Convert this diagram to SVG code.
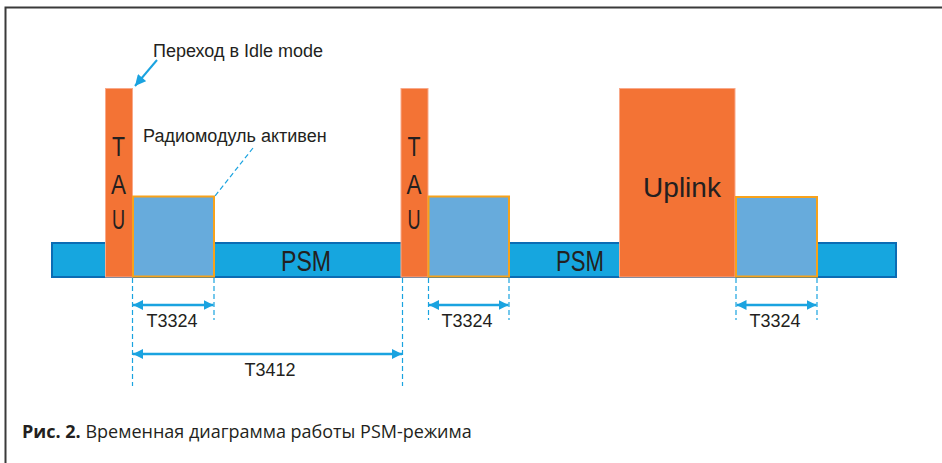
<svg xmlns="http://www.w3.org/2000/svg" width="942" height="463" viewBox="0 0 942 463">
  <style>
    .lbl { font-family: "Liberation Sans", Arial, sans-serif; fill: #231f20; }
    .bar { fill: #16a6df; stroke: #0b6cb4; stroke-width: 2; }
    .tau { fill: #f37335; stroke: #f9a98a; stroke-width: 1; }
    .act { fill: #67abdc; stroke: #f7a21b; stroke-width: 2; }
    .dash { stroke: #1aa3e0; stroke-width: 1.2; stroke-dasharray: 5 3; fill: none; }
    .dim { stroke: #1aa3e0; stroke-width: 2.5; fill: none; marker-start: url(#ah); marker-end: url(#ah); }
  </style>
  <defs>
    <marker id="ah" viewBox="0 0 10 10" refX="10" refY="5" markerWidth="10" markerHeight="11" orient="auto-start-reverse" markerUnits="userSpaceOnUse">
      <path d="M0,0 L10,5 L0,10 Z" fill="#1aa3e0"/>
    </marker>
    <marker id="ah2" viewBox="0 0 10 10" refX="10" refY="5" markerWidth="12" markerHeight="11" orient="auto" markerUnits="userSpaceOnUse">
      <path d="M0,0 L10,5 L0,10 Z" fill="#1aa3e0"/>
    </marker>
  </defs>
  <rect width="942" height="463" fill="#ffffff"/>
  <!-- frame -->
  <path d="M5.5,463 V7.5 H942" fill="none" stroke="#3a3a3a" stroke-width="2"/>

  <g id="psm-bar">
    <rect class="bar" x="52" y="243" width="844" height="34"/>
    <text class="lbl" x="281" y="271" font-size="29" textLength="50" lengthAdjust="spacingAndGlyphs">PSM</text>
    <text class="lbl" x="556" y="271" font-size="29" textLength="48" lengthAdjust="spacingAndGlyphs">PSM</text>
  </g>

  <g id="tau-1">
    <rect class="tau" x="105.5" y="88.5" width="27" height="188.5"/>
    <text class="lbl" x="112" y="156" font-size="27" textLength="13" lengthAdjust="spacingAndGlyphs">T</text>
    <text class="lbl" x="111" y="194" font-size="27" textLength="15" lengthAdjust="spacingAndGlyphs">A</text>
    <text class="lbl" x="112" y="229" font-size="27" textLength="13" lengthAdjust="spacingAndGlyphs">U</text>
  </g>
  <g id="active-1">
    <rect class="act" x="133" y="196.5" width="81" height="80"/>
  </g>

  <g id="tau-2">
    <rect class="tau" x="401" y="88.5" width="27" height="188.5"/>
    <text class="lbl" x="407.5" y="156" font-size="27" textLength="13" lengthAdjust="spacingAndGlyphs">T</text>
    <text class="lbl" x="406.5" y="194" font-size="27" textLength="15" lengthAdjust="spacingAndGlyphs">A</text>
    <text class="lbl" x="407.5" y="229" font-size="27" textLength="13" lengthAdjust="spacingAndGlyphs">U</text>
  </g>
  <g id="active-2">
    <rect class="act" x="428.5" y="196.5" width="80.5" height="80"/>
  </g>

  <g id="uplink">
    <rect class="tau" x="619.5" y="88.5" width="115.5" height="188.5"/>
    <text class="lbl" x="682" y="197" font-size="28" text-anchor="middle">Uplink</text>
  </g>
  <g id="active-3">
    <rect class="act" x="736" y="197" width="81" height="79.5"/>
  </g>

  <g id="connectors">
    <!-- idle-mode pointer -->
    <line x1="157" y1="60" x2="135" y2="86" stroke="#1aa3e0" stroke-width="2" marker-end="url(#ah2)"/>
    <!-- active-state leader -->
    <line class="dash" x1="253" y1="148" x2="215" y2="196"/>
    <!-- extension lines -->
    <line class="dash" x1="132.5" y1="278" x2="132.5" y2="386"/>
    <line class="dash" x1="214" y1="278" x2="214" y2="320"/>
    <line class="dash" x1="402.5" y1="278" x2="402.5" y2="386"/>
    <line class="dash" x1="428.5" y1="278" x2="428.5" y2="320"/>
    <line class="dash" x1="509" y1="278" x2="509" y2="320"/>
    <line class="dash" x1="736" y1="278" x2="736" y2="320"/>
    <line class="dash" x1="817" y1="278" x2="817" y2="320"/>
    <!-- intervals -->
    <line class="dim" x1="133" y1="305" x2="213.5" y2="305"/>
    <line class="dim" x1="429" y1="305" x2="508.5" y2="305"/>
    <line class="dim" x1="736.5" y1="305" x2="816.5" y2="305"/>
    <line class="dim" x1="133" y1="354" x2="402" y2="354"/>
  </g>

  <g id="labels">
    <text class="lbl" x="153" y="57" font-size="18">Переход в Idle mode</text>
    <text class="lbl" x="143" y="142" font-size="18">Радиомодуль активен</text>
    <text class="lbl" x="172" y="327" font-size="18" text-anchor="middle">T3324</text>
    <text class="lbl" x="467" y="327" font-size="18" text-anchor="middle">T3324</text>
    <text class="lbl" x="775" y="327" font-size="18" text-anchor="middle">T3324</text>
    <text class="lbl" x="270" y="376" font-size="18" text-anchor="middle">T3412</text>
  </g>

  <g id="caption">
    <text x="22" y="438" font-family="'Open Sans', 'Noto Sans', sans-serif" font-size="18" fill="#231f20"><tspan font-weight="bold">Рис. 2.</tspan> Временная диаграмма работы PSM-режима</text>
  </g>
</svg>
